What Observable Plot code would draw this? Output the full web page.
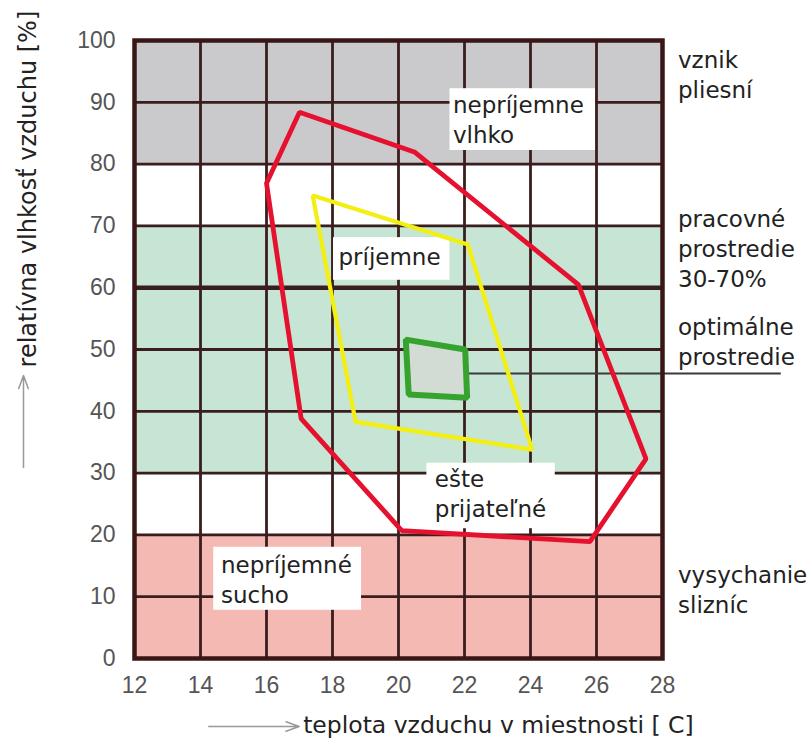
<!DOCTYPE html>
<html><head><meta charset="utf-8">
<script src="https://cdn.jsdelivr.net/npm/d3@7"></script>
<script src="https://cdn.jsdelivr.net/npm/@observablehq/plot@0.6"></script>
<style>body{margin:0;background:#fff}</style>
</head><body><div id="chart"></div>
<script>
// ticks
const tempTicks = [12, 14, 16, 18, 20, 22, 24, 26, 28];
const humTicks = [0, 10, 20, 30, 40, 50, 60, 70, 80, 90, 100];

// horizontal zones (relative humidity %)
const zoneNames = ["sucho", "prechod1", "pracovné", "prechod2", "pleseň"];
const zoneLow  = [0, 20, 30, 70, 80];
const zoneHigh = [20, 30, 70, 80, 100];
const zoneColors = ["#f5b9b3", "#ffffff", "#c6e5d4", "#ffffff", "#cacacc"];

// polygons: temperature [°C], humidity [%]
const redT = [17.0, 20.5, 25.45, 27.5, 25.8, 20.1, 17.05, 16.0];
const redH = [88.4, 81.9, 60.5, 32.3, 18.9, 20.7, 38.8, 76.9];
const yelT = [17.4, 22.1, 24.05, 18.7];
const yelH = [74.9, 67.0, 33.8, 38.3];
const grnT = [20.22, 22.02, 22.08, 20.31];
const grnH = [51.6, 50.0, 42.2, 42.7];

// annotation labels inside the grid
const noteText = ["nepríjemne\nvlhko", "príjemne", "ešte\nprijateľné", "nepríjemné\nsucho"];
const noteT = [21.65, 18.18, 21.1, 14.62];
const noteH = [90.7, 66.1, 30.2, 16.3];
const boxT1 = [21.56, 18.03, 20.86, 14.4];
const boxT2 = [25.97, 21.56, 24.75, 18.88];
const boxH1 = [82.2, 61.2, 21.0, 7.8];
const boxH2 = [92.2, 68.1, 31.6, 18.0];

// right-side labels
const sideText = ["vznik\npliesní", "pracovné\nprostredie\n30-70%", "optimálne\nprostredie", "vysychanie\nslizníc"];
const sideH = [98.0, 72.3, 54.8, 14.7];
const sideT = 28.47;

// pointer line for optimal zone
const pointerH = 46.1, pointerT1 = 21.6, pointerT2 = 31.6;

const xTitle = "teplota vzduchu v miestnosti [ C]";
const yTitle = "relatívna vlhkosť vzduchu [%]";

const zones = zoneNames.map((n, i) => ({n, lo: zoneLow[i], hi: zoneHigh[i]}));
const red = redT.map((t, i) => ({t, h: redH[i]}));
const yel = yelT.map((t, i) => ({t, h: yelH[i]}));
const grn = grnT.map((t, i) => ({t, h: grnH[i]}));
const notes = noteText.map((s, i) => ({s, t: noteT[i], h: noteH[i], t1: boxT1[i], t2: boxT2[i], h1: boxH1[i], h2: boxH2[i]}));
const sides = sideText.map((s, i) => ({s, h: sideH[i]}));

const gridColor = "#3a1d1d";

const chart = Plot.plot({
  width: 810, height: 740,
  marginLeft: 134, marginRight: 148, marginTop: 40, marginBottom: 82,
  x: {domain: [12, 28]},
  y: {domain: [0, 100]},
  color: {domain: zoneNames, range: zoneColors},
  style: {fontFamily: "DejaVu Sans", background: "white"},
  marks: [
    Plot.rect(zones, {x1: () => 12, x2: () => 28, y1: "lo", y2: "hi", fill: "n"}),
    Plot.ruleX(tempTicks.slice(1, -1), {stroke: gridColor, strokeWidth: 2.8}),
    Plot.ruleY(humTicks.slice(1, -1), {stroke: gridColor, strokeWidth: 2.8}),
    Plot.ruleY([60], {stroke: gridColor, strokeWidth: 4.5}),
    Plot.rect(notes, {x1: "t1", x2: "t2", y1: "h1", y2: "h2", fill: "white"}),
    Plot.ruleY([pointerH], {x1: () => pointerT1, x2: () => pointerT2, stroke: "#3a3a3a", strokeWidth: 2}),
    Plot.line(red, {x: "t", y: "h", curve: "linear-closed", stroke: "#e5112f", strokeWidth: 4.8, strokeLinejoin: "miter"}),
    Plot.line(yel, {x: "t", y: "h", curve: "linear-closed", stroke: "#f3ef12", strokeWidth: 4.2, strokeLinejoin: "miter"}),
    Plot.line(grn, {x: "t", y: "h", curve: "linear-closed", fill: "#d3dbd5", stroke: "#36a32e", strokeWidth: 6, strokeLinejoin: "miter"}),
    Plot.frame({stroke: "#3a1616", strokeWidth: 4.5}),
    Plot.text(notes, {x: "t", y: "h", dy: -6, text: "s", textAnchor: "start", lineAnchor: "top", lineHeight: 1.3, fontSize: 23, fill: "#222"}),
    Plot.text(sides, {x: () => sideT, y: "h", dy: -6, text: "s", textAnchor: "start", lineAnchor: "top", lineHeight: 1.3, fontSize: 23, fill: "#222"}),
    Plot.axisX({ticks: tempTicks, tickSize: 0, tickPadding: 18, fontSize: 23, fontFamily: "Liberation Sans", fill: "#555", label: null}),
    Plot.axisY({ticks: humTicks, tickSize: 0, tickPadding: 19, fontSize: 23, fontFamily: "Liberation Sans", fill: "#555", label: null}),
    // axis titles
    Plot.text([xTitle], {x: () => 17.11, y: () => 0, dy: 67, text: d => d, textAnchor: "start", fontSize: 23.5, fill: "#222"}),
    Plot.arrow([0], {x1: () => 14.25, x2: () => 16.99, y1: () => 0, y2: () => 0, dy: 68, stroke: "#999", strokeWidth: 1.5, headLength: 14, headAngle: 40}),
    Plot.text([yTitle], {x: () => 12, y: () => 47.1, dx: -106, rotate: -90, text: d => d, textAnchor: "start", fontSize: 24, fill: "#222"}),
    Plot.arrow([0], {x1: () => 12, x2: () => 12, y1: () => 30.9, y2: () => 45.8, dx: -111, stroke: "#999", strokeWidth: 1.5, headLength: 14, headAngle: 40})
  ]
});
document.getElementById("chart").append(chart);
</script>
</body></html>
